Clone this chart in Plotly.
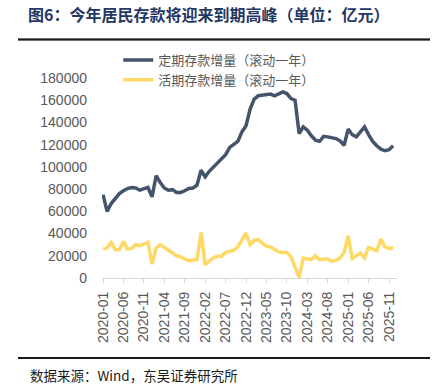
import plotly.graph_objects as go

months = [f"{y}-{m:02d}" for y in range(2020, 2026) for m in range(1, 13)]

time_dep = [
    75000, 60000, 67000, 72000, 76000, 78500, 80500, 81500, 81000, 79000,
    80500, 81500, 73000, 92000, 86000, 81000, 79000, 79500, 77000, 77000,
    78500, 80500, 81000, 83500, 97000, 91000, 96000, 100000, 104000, 107500,
    111000, 117500, 120500, 123000, 131500, 137000, 152000, 161000, 164000, 164500,
    164500, 165500, 164000, 165500, 167500, 166000, 161500, 160000, 130000, 136000,
    133000, 128000, 124000, 123000, 127500, 127000, 126000, 125500, 123500, 119500,
    134000, 129000, 127000, 132000, 136000, 129000, 123000, 119000, 116000, 114500,
    115500, 119000,
]

demand_dep = [
    26000, 27000, 32000, 25500, 25500, 33000, 26000, 26500, 30000, 29000,
    30500, 32000, 12500, 27000, 30000, 27500, 25500, 22500, 20000, 19000,
    17000, 15500, 16000, 16500, 41000, 12000, 15000, 18000, 19500, 19500,
    23000, 24000, 25000, 28000, 34500, 40500, 30000, 34000, 34500, 31000,
    28500, 28000, 25500, 23500, 23000, 23000, 19000, 9500, 500, 18000,
    17000, 16500, 20000, 16500, 17000, 17000, 15000, 16000, 18000, 23000,
    38000, 17500, 20000, 22500, 18000, 27500, 26000, 24500, 35000, 28000,
    26500, 27500,
]

series_names = ["定期存款增量（滚动一年）", "活期存款增量（滚动一年）"]
tick_labels = months[::5]
y_ticks = list(range(0, 180001, 20000))

title_text = "图6：今年居民存款将迎来到期高峰（单位：亿元）"
source_text = "数据来源：Wind，东吴证券研究所"

W, H = 441, 391
L, R, T, B = 102, 44, 78, 113

fig = go.Figure()
fig.add_trace(go.Scatter(x=months, y=time_dep, mode="lines", name=series_names[0],
                         line=dict(color="#44546A", width=3.5)))
fig.add_trace(go.Scatter(x=months, y=demand_dep, mode="lines", name=series_names[1],
                         line=dict(color="#FFD966", width=3.5)))

pw = W - L - R
ph = H - T - B
def px_x(x):
    return (x - L) / pw
def px_y(y):
    return (H - B - y) / ph

rule_img = ("data:image/svg+xml;utf8,<svg xmlns='http://www.w3.org/2000/svg' width='10' height='10'>"
            "<rect width='10' height='10' fill='%231A1A1A'/></svg>")
images = [dict(source=rule_img, xref="paper", yref="paper", x=px_x(18), y=px_y(ry),
               sizex=412 / pw, sizey=2 / ph, sizing="stretch", xanchor="left",
               yanchor="middle", layer="above")
          for ry in (39.5, 358)]
shapes = [dict(type="line", xref="paper", yref="paper", x0=px_x(18), x1=px_x(430),
               y0=px_y(ry), y1=px_y(ry), line=dict(color="#1A1A1A", width=2))
          for ry in (39.5, 358)]

fig.update_layout(
    width=W, height=H,
    margin=dict(l=L, r=R, t=T, b=B),
    paper_bgcolor="white", plot_bgcolor="white",
    font=dict(family="Arial, Liberation Sans, sans-serif", color="#595959", size=14),
    showlegend=True,
    legend=dict(x=0.055, xanchor="left", y=1.165, yanchor="top",
                font=dict(family="Noto Sans CJK SC", size=13, color="#595959"),
                bgcolor="rgba(0,0,0,0)", tracegroupgap=0, itemwidth=30),
    title=dict(text=title_text, x=28 / W, xanchor="left", xref="container",
               y=1 - 15 / H, yanchor="middle", yref="container",
               font=dict(family="Noto Sans CJK SC", size=16, color="#1F3864", weight="bold")),
    images=images,
    shapes=shapes,
)

fig.update_xaxes(type="category", categoryorder="array", categoryarray=months,
                 range=[-0.25, 71.95], tickmode="array", tickvals=tick_labels,
                 ticktext=tick_labels, tickangle=-90, ticks="outside", ticklen=4,
                 tickcolor="#D9D9D9", showline=True, linecolor="#D9D9D9", linewidth=1,
                 showgrid=False, zeroline=False, ticklabelstandoff=3,
                 tickfont=dict(size=14, color="#595959"))
fig.update_yaxes(range=[0, 180000], tickmode="array", tickvals=y_ticks,
                 tickformat="d", showgrid=False, zeroline=False, showline=False,
                 ticks="", ticklabelstandoff=14, tickfont=dict(size=14, color="#595959"))

fig.add_annotation(text=source_text, xref="paper", yref="paper", x=px_x(28), y=px_y(375),
                   xanchor="left", yanchor="middle", showarrow=False,
                   font=dict(family="Noto Sans CJK SC", size=13.5, color="#1A1A1A"))

fig.write_html("out.html", config={"displayModeBar": False},
               post_script="document.body.style.margin='0';")
